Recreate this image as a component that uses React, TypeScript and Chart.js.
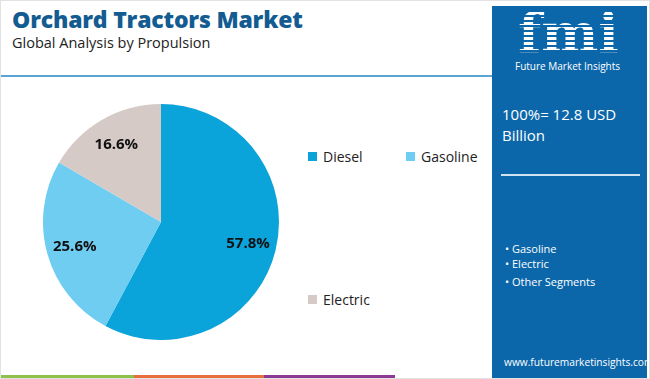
import React, { useEffect, useRef } from "react";
import { Chart, registerables } from "chart.js";

Chart.register(...registerables);

const categories = ["Diesel", "Gasoline", "Electric"];
const shares = [57.8, 25.6, 16.6];
const sliceColors = ["#0aa3da", "#6fcdf1", "#d5cac6"];
const panelBullets = ["Gasoline", "Electric", "Other Segments"];
const totalText = "100%= 12.8 USD Billion";

const labelPlugin = {
  id: "sliceLabels",
  afterDatasetsDraw(chart: any) {
    const ctx = chart.ctx;
    const meta = chart.getDatasetMeta(0);
    ctx.save();
    ctx.font = "bold 15px 'Open Sans', sans-serif";
    ctx.fillStyle = "#111";
    ctx.textAlign = "center";
    ctx.textBaseline = "middle";
    meta.data.forEach((arc: any, i: number) => {
      const p = arc.getProps(["x", "y", "startAngle", "endAngle", "outerRadius"], true);
      const mid = (p.startAngle + p.endAngle) / 2;
      const r = p.outerRadius * 0.76;
      ctx.fillText(shares[i].toFixed(1) + "%", p.x + Math.cos(mid) * r, p.y + Math.sin(mid) * r);
    });
    ctx.restore();
  },
};

function PieChart() {
  const ref = useRef<HTMLCanvasElement>(null);
  useEffect(() => {
    const chart = new Chart(ref.current!, {
      type: "pie",
      data: {
        labels: categories,
        datasets: [{ data: shares, backgroundColor: sliceColors, borderWidth: 0 }],
      },
      options: {
        animation: false,
        responsive: false,
        layout: { padding: 0 },
        plugins: { legend: { display: false }, tooltip: { enabled: false } },
      },
      plugins: [labelPlugin],
    });
    return () => chart.destroy();
  }, []);
  return <canvas ref={ref} width={236} height={236} style={{ position: "absolute", left: 42, top: 103, width: 236, height: 236 }} />;
}

export default function App() {
  const font = "'Open Sans', 'Noto Sans', sans-serif";
  const legendPos = [
    { left: 307, top: 146 },
    { left: 405, top: 146 },
    { left: 307, top: 289 },
  ];
  return (
    <div style={{ position: "fixed", left: 0, top: 0, width: 650, height: 379, background: "#fff", overflow: "hidden", fontFamily: font, boxSizing: "border-box", border: "1px solid #e2e2e2" }}>
      <div style={{ position: "absolute", left: 11, top: 2, fontSize: 23, fontWeight: 800, color: "#135c92", letterSpacing: -0.2, whiteSpace: "nowrap" }}>Orchard Tractors Market</div>
      <div style={{ position: "absolute", left: 11, top: 32, fontSize: 14.5, color: "#222", whiteSpace: "nowrap" }}>Global Analysis by Propulsion</div>
      <div style={{ position: "absolute", left: 0, top: 74, width: 492, height: 2, background: "#5aa5d4" }} />
      <PieChart />
      {categories.map((c, i) => (
        <div key={c} style={{ position: "absolute", left: legendPos[i].left, top: legendPos[i].top, display: "flex", alignItems: "center", fontSize: 14, color: "#222", whiteSpace: "nowrap" }}>
          <span style={{ display: "inline-block", width: 9, height: 9, background: sliceColors[i], marginRight: 6 }} />
          {c}
        </div>
      ))}
      <div style={{ position: "absolute", left: 0, top: 374, width: 133, height: 5, background: "#8dc14a" }} />
      <div style={{ position: "absolute", left: 133, top: 374, width: 130, height: 5, background: "#e86f3b" }} />
      <div style={{ position: "absolute", left: 263, top: 374, width: 131, height: 5, background: "#8c3994" }} />
      <div style={{ position: "absolute", left: 491, top: 5, width: 155, height: 374, background: "#0c67aa", color: "#fff" }}>
        <div style={{ position: "absolute", left: 26, top: -4, fontSize: 54, fontWeight: 900, fontFamily: "'DejaVu Serif', serif", lineHeight: "62px", letterSpacing: 0, background: "repeating-linear-gradient(#fff 0 3px, transparent 3px 5px)", WebkitBackgroundClip: "text", backgroundClip: "text", color: "transparent" }}>fmi</div>
        <div style={{ position: "absolute", left: 23, top: 53, fontSize: 10, whiteSpace: "nowrap" }}>Future Market Insights</div>
        <div style={{ position: "absolute", left: 10, top: 98, width: 140, fontSize: 15, lineHeight: "21px" }}>{totalText}</div>
        <div style={{ position: "absolute", left: 9, top: 168, width: 139, height: 1.5, background: "#cfe3f2" }} />
        <div style={{ position: "absolute", left: 13, top: 235, fontSize: 11, lineHeight: "15px" }}>
          {panelBullets.map((b, i) => (
            <div key={b} style={{ marginTop: i === 2 ? 3 : 0 }}>• {b}</div>
          ))}
        </div>
        <div style={{ position: "absolute", left: 12, top: 349, fontSize: 10.2, whiteSpace: "nowrap" }}>www.futuremarketinsights.com</div>
      </div>
    </div>
  );
}
